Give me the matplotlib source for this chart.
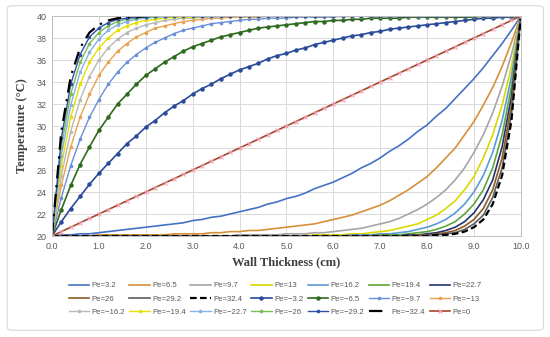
import matplotlib
matplotlib.use("Agg")
import matplotlib.pyplot as plt
from matplotlib.patches import FancyBboxPatch

# wall position (cm)
x = [0.0, 0.2, 0.4, 0.6, 0.8, 1.0, 1.2, 1.4, 1.6, 1.8, 2.0, 2.2, 2.4, 2.6, 2.8,
     3.0, 3.2, 3.4, 3.6, 3.8, 4.0, 4.2, 4.4, 4.6, 4.8, 5.0, 5.2, 5.4, 5.6, 5.8,
     6.0, 6.2, 6.4, 6.6, 6.8, 7.0, 7.2, 7.4, 7.6, 7.8, 8.0, 8.2, 8.4, 8.6, 8.8,
     9.0, 9.2, 9.4, 9.6, 9.8, 10.0]

# temperature profiles (°C)
t_p3_2 = [20.0, 20.1, 20.1, 20.2, 20.2, 20.3, 20.4, 20.5, 20.6, 20.7, 20.8, 20.9, 21.0,
          21.1, 21.2, 21.4, 21.5, 21.7, 21.8, 22.0, 22.2, 22.4, 22.6, 22.9, 23.1, 23.4,
          23.6, 23.9, 24.3, 24.6, 24.9, 25.3, 25.7, 26.2, 26.6, 27.1, 27.7, 28.2, 28.8,
          29.5, 30.1, 30.9, 31.6, 32.5, 33.4, 34.3, 35.3, 36.4, 37.5, 38.7, 40.0]
t_p6_5 = [20.0, 20.0, 20.0, 20.0, 20.0, 20.1, 20.1, 20.1, 20.1, 20.1, 20.1, 20.1, 20.1,
          20.2, 20.2, 20.2, 20.2, 20.3, 20.3, 20.4, 20.4, 20.5, 20.5, 20.6, 20.7, 20.8,
          20.9, 21.0, 21.1, 21.3, 21.5, 21.7, 21.9, 22.2, 22.5, 22.8, 23.2, 23.7, 24.2,
          24.8, 25.4, 26.2, 27.1, 28.0, 29.2, 30.4, 31.9, 33.5, 35.4, 37.6, 40.0]
t_p9_7 = [20.0] * 20 + [20.1, 20.1, 20.1, 20.1, 20.1, 20.2, 20.2, 20.2, 20.3, 20.3, 20.4,
                        20.5, 20.6, 20.7, 20.9, 21.1, 21.3, 21.6, 22.0, 22.4, 22.9, 23.5,
                        24.2, 25.1, 26.2, 27.6, 29.2, 31.2, 33.6, 36.5, 40.0]
t_p13 = [20.0] * 28 + [20.1, 20.1, 20.1, 20.1, 20.2, 20.2, 20.3, 20.4, 20.5, 20.7, 20.9,
                       21.1, 21.5, 21.9, 22.5, 23.2, 24.2, 25.4, 27.1, 29.2, 31.9, 35.4, 40.0]
t_p16_2 = [20.0] * 32 + [20.1, 20.1, 20.1, 20.2, 20.2, 20.3, 20.4, 20.6, 20.8, 21.1, 21.5,
                         22.1, 22.9, 24.0, 25.5, 27.6, 30.5, 34.5, 40.0]
t_p19_4 = [20.0] * 35 + [20.1, 20.1, 20.1, 20.2, 20.3, 20.4, 20.6, 20.9, 21.3, 22.0, 22.9,
                         24.2, 26.2, 29.2, 33.6, 40.0]
t_p22_7 = [20.0] * 38 + [20.1, 20.1, 20.2, 20.3, 20.5, 20.8, 21.3, 22.1, 23.3, 25.1, 28.1,
                         32.7, 40.0]
t_p26 = [20.0] * 39 + [20.1, 20.1, 20.2, 20.3, 20.5, 20.9, 21.5, 22.5, 24.2, 27.1, 31.9, 40.0]
t_p29_2 = [20.0] * 40 + [20.1, 20.1, 20.2, 20.3, 20.6, 21.1, 21.9, 23.5, 26.2, 31.1, 40.0]
t_p32_4 = [20.0] * 41 + [20.1, 20.1, 20.2, 20.4, 20.8, 21.5, 22.9, 25.5, 30.5, 40.0]

t_m3_2 = [20.0, 21.3, 22.5, 23.6, 24.7, 25.7, 26.6, 27.5, 28.4, 29.1, 29.9, 30.5, 31.2,
          31.8, 32.3, 32.9, 33.4, 33.8, 34.3, 34.7, 35.1, 35.4, 35.7, 36.1, 36.4, 36.6,
          36.9, 37.1, 37.4, 37.6, 37.8, 38.0, 38.2, 38.3, 38.5, 38.6, 38.8, 38.9, 39.0,
          39.1, 39.2, 39.3, 39.4, 39.5, 39.6, 39.7, 39.8, 39.8, 39.9, 39.9, 40.0]
t_m6_5 = [20.0, 22.4, 24.6, 26.5, 28.1, 29.6, 30.8, 32.0, 32.9, 33.8, 34.6, 35.2, 35.8,
          36.3, 36.8, 37.2, 37.5, 37.8, 38.1, 38.3, 38.5, 38.7, 38.9, 39.0, 39.1, 39.2,
          39.3, 39.4, 39.5, 39.5, 39.6, 39.6, 39.7, 39.7, 39.8, 39.8, 39.8, 39.8, 39.9,
          39.9, 39.9, 39.9, 39.9, 39.9, 39.9, 39.9, 40.0, 40.0, 40.0, 40.0, 40.0]
t_m9_7 = [20.0, 23.5, 26.4, 28.8, 30.8, 32.4, 33.8, 34.9, 35.8, 36.5, 37.1, 37.6, 38.0,
          38.4, 38.7, 38.9, 39.1, 39.3, 39.4, 39.5, 39.6, 39.7, 39.7, 39.8, 39.8, 39.8,
          39.9, 39.9, 39.9, 39.9, 39.9] + [40.0] * 20
t_m13 = [20.0, 24.6, 28.1, 30.8, 32.9, 34.6, 35.8, 36.8, 37.5, 38.1, 38.5, 38.9, 39.1,
         39.3, 39.5, 39.6, 39.7, 39.8, 39.8, 39.9, 39.9, 39.9, 39.9] + [40.0] * 28
t_m16_2 = [20.0, 25.5, 29.5, 32.4, 34.5, 36.0, 37.1, 37.9, 38.5, 38.9, 39.2, 39.4, 39.6,
           39.7, 39.8, 39.8, 39.9, 39.9, 39.9] + [40.0] * 32
t_m19_4 = [20.0, 26.4, 30.8, 33.8, 35.8, 37.1, 38.0, 38.7, 39.1, 39.4, 39.6, 39.7, 39.8,
           39.9, 39.9, 39.9] + [40.0] * 35
t_m22_7 = [20.0, 27.3, 31.9, 34.9, 36.7, 37.9, 38.7, 39.2, 39.5, 39.7, 39.8, 39.9,
           39.9] + [40.0] * 38
t_m26 = [20.0, 28.1, 32.9, 35.8, 37.5, 38.5, 39.1, 39.5, 39.7, 39.8, 39.9, 39.9] + [40.0] * 39
t_m29_2 = [20.0, 28.9, 33.8, 36.5, 38.1, 38.9, 39.4, 39.7, 39.8, 39.9, 39.9] + [40.0] * 40
t_m32_4 = [20.0, 29.5, 34.5, 37.1, 38.5, 39.2, 39.6, 39.8, 39.9, 39.9] + [40.0] * 41

t_0 = [20.0, 20.4, 20.8, 21.2, 21.6, 22.0, 22.4, 22.8, 23.2, 23.6, 24.0, 24.4, 24.8,
       25.2, 25.6, 26.0, 26.4, 26.8, 27.2, 27.6, 28.0, 28.4, 28.8, 29.2, 29.6, 30.0,
       30.4, 30.8, 31.2, 31.6, 32.0, 32.4, 32.8, 33.2, 33.6, 34.0, 34.4, 34.8, 35.2,
       35.6, 36.0, 36.4, 36.8, 37.2, 37.6, 38.0, 38.4, 38.8, 39.2, 39.6, 40.0]

labels = ["Pe=3.2", "Pe=6.5", "Pe=9.7", "Pe=13", "Pe=16.2", "Pe=19.4", "Pe=22.7",
          "Pe=26", "Pe=29.2", "Pe=32.4", "Pe=\u22123.2", "Pe=\u22126.5", "Pe=\u22129.7",
          "Pe=\u221213", "Pe=\u221216.2", "Pe=\u221219.4", "Pe=\u221222.7", "Pe=\u221226",
          "Pe=\u221229.2", "Pe=\u221232.4", "Pe=0"]
series = [t_p3_2, t_p6_5, t_p9_7, t_p13, t_p16_2, t_p19_4, t_p22_7, t_p26, t_p29_2,
          t_p32_4, t_m3_2, t_m6_5, t_m9_7, t_m13, t_m16_2, t_m19_4, t_m22_7, t_m26,
          t_m29_2, t_m32_4, t_0]
colors = ["#4472C4", "#D4913A", "#A5A5A5", "#DDD700", "#5B9BD5", "#5FA63A", "#22336E",
          "#8E5A22", "#5E5E5E", "#000000", "#2A4A9A", "#2E6A1E", "#6A8FD8", "#E8A250",
          "#B8B8B8", "#E6E000", "#86B2E6", "#7DBB55", "#2C4FA8", "#000000", "#A0482A"]

plt.rcParams['font.family'] = ['Liberation Sans', 'DejaVu Sans']

fig = plt.figure(figsize=(5.5, 3.37), dpi=100)
fig.patches.append(FancyBboxPatch((0.013, 0.02), 0.975, 0.963,
                                  boxstyle="round,pad=0,rounding_size=0.01",
                                  transform=fig.transFigure, facecolor="white",
                                  edgecolor="#D9D9D9", linewidth=0.8, zorder=-1))
ax = fig.add_axes([0.0945, 0.2997, 0.8525, 0.6528])

handles = []
for i in range(len(series)):
    kw = dict(color=colors[i], lw=1.2)
    if i == 9:
        kw.update(ls=(0, (3, 1.5)), lw=1.6)
    elif i == 19:
        kw.update(ls=(0, (6, 3, 1, 3)), lw=1.6)
    elif i in (10, 11):
        kw.update(marker="o", ms=2.2, lw=1.2)
    elif 12 <= i <= 18:
        kw.update(marker="o", ms=1.6, lw=1.0)
    elif i == 20:
        kw.update(marker="x", ms=3.5, mec="#F7A0B8", mew=0.8, lw=1.2)
    h, = ax.plot(x, series[i], label=labels[i], **kw)
    handles.append(h)

ax.set_xlim(0, 10)
ax.set_ylim(20, 40)
ax.set_xticks([0, 1, 2, 3, 4, 5, 6, 7, 8, 9, 10])
ax.set_xticklabels(["0.0", "1.0", "2.0", "3.0", "4.0", "5.0", "6.0", "7.0", "8.0",
                    "9.0", "10.0"])
ax.set_yticks([20, 22, 24, 26, 28, 30, 32, 34, 36, 38, 40])
ax.grid(True, color="#D9D9D9", lw=0.7)
ax.set_axisbelow(True)
for s in ax.spines.values():
    s.set_color("#BFBFBF")
    s.set_linewidth(0.7)
ax.tick_params(length=0, labelsize=6.5, labelcolor="#595959", pad=4)

ax.set_xlabel("Wall Thickness (cm)", family="Liberation Serif", fontweight="bold",
              fontsize=9, color="#404040", labelpad=4)
ax.set_ylabel("Temperature (\u00b0C)", family="Liberation Serif", fontweight="bold",
              fontsize=9, color="#404040", labelpad=6)

# Excel fills the legend row by row
order = [r * 7 + c for c in range(7) for r in range(3)]
leg = fig.legend([handles[k] for k in order], [labels[k] for k in order],
                 ncol=7, loc="center", bbox_to_anchor=(0.5, 0.113), frameon=False,
                 fontsize=5.6, handlelength=2.6, columnspacing=0.6, handletextpad=0.3,
                 labelspacing=0.75, labelcolor="#595959")

fig.savefig("out.png", dpi=100)
